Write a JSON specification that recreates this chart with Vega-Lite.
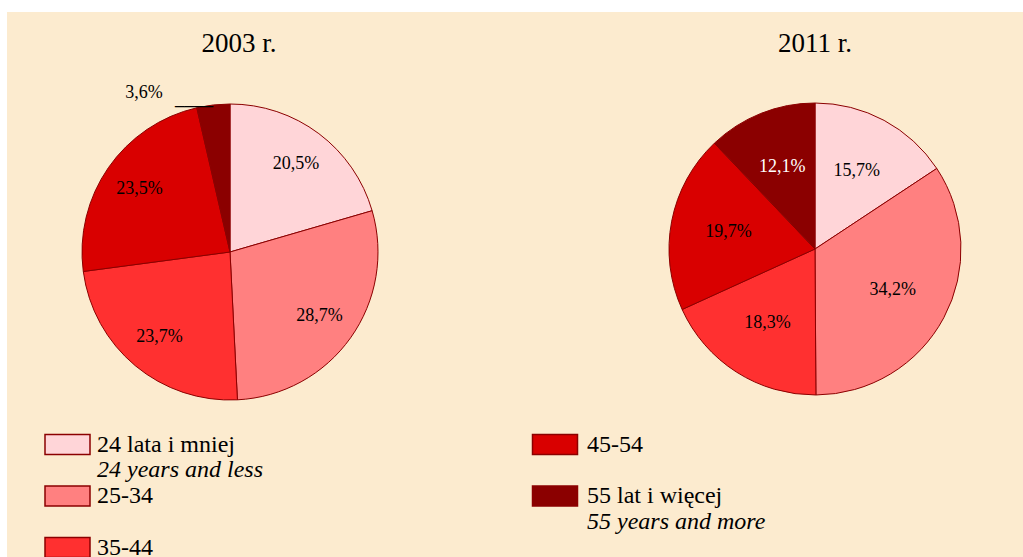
{
  "$schema": "https://vega.github.io/schema/vega-lite/v6.json",
  "width": 1023,
  "height": 557,
  "autosize": {"type": "fit", "contains": "padding"},
  "padding": {"left": 7, "top": 12, "right": 0, "bottom": 0},
  "background": "white",
  "config": {"view": {"fill": "#FCEBCF", "stroke": null}, "font": "Liberation Serif", "text": {"font": "Liberation Serif"}},
  "datasets": {
    "shares": [
      {"year": "2003", "category": "24 lata i mniej", "value": 20.5, "label": "20,5%"},
      {"year": "2003", "category": "25-34", "value": 28.7, "label": "28,7%"},
      {"year": "2003", "category": "35-44", "value": 23.7, "label": "23,7%"},
      {"year": "2003", "category": "45-54", "value": 23.5, "label": "23,5%"},
      {"year": "2003", "category": "55 lat i więcej", "value": 3.6, "label": "3,6%"},
      {"year": "2011", "category": "24 lata i mniej", "value": 15.7, "label": "15,7%"},
      {"year": "2011", "category": "25-34", "value": 34.2, "label": "34,2%"},
      {"year": "2011", "category": "35-44", "value": 18.3, "label": "18,3%"},
      {"year": "2011", "category": "45-54", "value": 19.7, "label": "19,7%"},
      {"year": "2011", "category": "55 lat i więcej", "value": 12.1, "label": "12,1%"}
    ],
    "titles": [
      {"year": "2003", "title": "2003 r."},
      {"year": "2011", "title": "2011 r."}
    ],
    "legend": [
      {"col": "L", "line": 0, "text": "24 lata i mniej", "kind": "main", "category": "24 lata i mniej"},
      {"col": "L", "line": 1, "text": "24 years and less", "kind": "en"},
      {"col": "L", "line": 2, "text": "25-34", "kind": "main", "category": "25-34"},
      {"col": "L", "line": 4, "text": "35-44", "kind": "main", "category": "35-44"},
      {"col": "R", "line": 0, "text": "45-54", "kind": "main", "category": "45-54"},
      {"col": "R", "line": 2, "text": "55 lat i więcej", "kind": "main", "category": "55 lat i więcej"},
      {"col": "R", "line": 3, "text": "55 years and more", "kind": "en"}
    ]
  },
  "resolve": {"scale": {"x": "independent", "y": "independent"}},
  "layer": [
    {
      "data": {"name": "shares"},
      "transform": [{"filter": "datum.year == '2003'"}],
      "mark": {"type": "arc", "outerRadius": 148, "stroke": "#8B0000", "strokeWidth": 1},
      "encoding": {
        "x": {"field": "year", "type": "nominal", "scale": {"type": "point", "domain": ["2003", "2011"], "range": [223, 808], "padding": 0}, "axis": null},
        "y": {"field": "year", "type": "nominal", "scale": {"type": "point", "domain": ["2003", "2011"], "range": [240, 237], "padding": 0}, "axis": null},
        "theta": {"field": "value", "type": "quantitative", "stack": true, "scale": {"domain": [0, 100]}},
        "order": {"field": "category", "type": "ordinal", "sort": "ascending"},
        "color": {"field": "category", "type": "nominal", "legend": null,
          "scale": {"domain": ["24 lata i mniej", "25-34", "35-44", "45-54", "55 lat i więcej"],
                    "range": ["#FFD5D8", "#FF8080", "#FF3030", "#D90000", "#8B0000"]}}
      }
    },
    {
      "data": {"name": "shares"},
      "transform": [{"filter": "datum.year == '2011'"}],
      "mark": {"type": "arc", "outerRadius": 146, "stroke": "#8B0000", "strokeWidth": 1},
      "encoding": {
        "x": {"field": "year", "type": "nominal", "scale": {"type": "point", "domain": ["2003", "2011"], "range": [223, 808], "padding": 0}, "axis": null},
        "y": {"field": "year", "type": "nominal", "scale": {"type": "point", "domain": ["2003", "2011"], "range": [240, 237], "padding": 0}, "axis": null},
        "theta": {"field": "value", "type": "quantitative", "stack": true, "scale": {"domain": [0, 100]}},
        "order": {"field": "category", "type": "ordinal", "sort": "ascending"},
        "color": {"field": "category", "type": "nominal", "legend": null}
      }
    },
    {
      "data": {"name": "shares"},
      "transform": [{"filter": "datum.year == '2003'"}],
      "mark": {"type": "text", "font": "Liberation Serif", "radius": 110, "fontSize": 18, "baseline": "middle", "align": "center"},
      "encoding": {
        "x": {"field": "year", "type": "nominal", "scale": {"type": "point", "domain": ["2003", "2011"], "range": [223, 808], "padding": 0}, "axis": null},
        "y": {"field": "year", "type": "nominal", "scale": {"type": "point", "domain": ["2003", "2011"], "range": [240, 237], "padding": 0}, "axis": null},
        "theta": {"field": "value", "type": "quantitative", "stack": true, "scale": {"domain": [0, 100]}},
        "order": {"field": "category", "type": "ordinal", "sort": "ascending"},
        "text": {"condition": {"test": "datum.category == '55 lat i więcej'", "value": ""}, "field": "label"},
        "color": {"value": "black"}
      }
    },
    {
      "data": {"name": "shares"},
      "transform": [{"filter": "datum.year == '2003'"}],
      "mark": {"type": "text", "font": "Liberation Serif", "radius": 160, "dx": -68, "fontSize": 18, "baseline": "middle", "align": "center"},
      "encoding": {
        "x": {"field": "year", "type": "nominal", "scale": {"type": "point", "domain": ["2003", "2011"], "range": [223, 808], "padding": 0}, "axis": null},
        "y": {"field": "year", "type": "nominal", "scale": {"type": "point", "domain": ["2003", "2011"], "range": [240, 237], "padding": 0}, "axis": null},
        "theta": {"field": "value", "type": "quantitative", "stack": true, "scale": {"domain": [0, 100]}},
        "order": {"field": "category", "type": "ordinal", "sort": "ascending"},
        "text": {"condition": {"test": "datum.category == '55 lat i więcej'", "field": "label"}, "value": ""},
        "color": {"value": "black"}
      }
    },
    {
      "data": {"name": "shares"},
      "transform": [{"filter": "datum.year == '2003'"}],
      "mark": {"type": "text", "font": "Liberation Serif", "fontWeight": "bold", "radius": 160, "dx": -18, "dy": 12, "fontSize": 19, "baseline": "alphabetic", "align": "center"},
      "encoding": {
        "x": {"field": "year", "type": "nominal", "scale": {"type": "point", "domain": ["2003", "2011"], "range": [223, 808], "padding": 0}, "axis": null},
        "y": {"field": "year", "type": "nominal", "scale": {"type": "point", "domain": ["2003", "2011"], "range": [240, 237], "padding": 0}, "axis": null},
        "theta": {"field": "value", "type": "quantitative", "stack": true, "scale": {"domain": [0, 100]}},
        "order": {"field": "category", "type": "ordinal", "sort": "ascending"},
        "text": {"condition": {"test": "datum.category == '55 lat i więcej'", "value": "____"}, "value": ""},
        "color": {"value": "black"}
      }
    },
    {
      "data": {"name": "shares"},
      "transform": [{"filter": "datum.year == '2011'"}],
      "mark": {"type": "text", "font": "Liberation Serif", "radius": 88, "fontSize": 18, "baseline": "middle", "align": "center"},
      "encoding": {
        "x": {"field": "year", "type": "nominal", "scale": {"type": "point", "domain": ["2003", "2011"], "range": [223, 808], "padding": 0}, "axis": null},
        "y": {"field": "year", "type": "nominal", "scale": {"type": "point", "domain": ["2003", "2011"], "range": [240, 237], "padding": 0}, "axis": null},
        "theta": {"field": "value", "type": "quantitative", "stack": true, "scale": {"domain": [0, 100]}},
        "order": {"field": "category", "type": "ordinal", "sort": "ascending"},
        "text": {"field": "label"},
        "color": {"condition": {"test": "datum.category == '55 lat i więcej'", "value": "white"}, "value": "black"}
      }
    },
    {
      "data": {"name": "titles"},
      "mark": {"type": "text", "font": "Liberation Serif", "fontSize": 27, "baseline": "alphabetic", "align": "center", "color": "black"},
      "encoding": {
        "x": {"field": "year", "type": "nominal", "scale": {"type": "point", "domain": ["2003", "2011"], "range": [232, 808], "padding": 0}, "axis": null},
        "y": {"field": "year", "type": "nominal", "scale": {"type": "point", "domain": ["2003", "2011"], "range": [40, 40], "padding": 0}, "axis": null},
        "text": {"field": "title"}
      }
    },
    {
      "data": {"name": "legend"},
      "transform": [{"filter": "datum.kind == 'main'"}],
      "mark": {"type": "point", "shape": "M-1,-0.444H1V0.444H-1Z", "size": 2025, "filled": true, "opacity": 1, "stroke": "#8B0000", "strokeWidth": 1.5},
      "encoding": {
        "x": {"field": "col", "type": "nominal", "scale": {"type": "point", "domain": ["L", "R"], "range": [60.5, 548], "padding": 0}, "axis": null},
        "y": {"field": "line", "type": "ordinal", "scale": {"type": "point", "domain": [0, 1, 2, 3, 4], "range": [432.5, 535.5], "padding": 0}, "axis": null},
        "color": {"field": "category", "type": "nominal", "legend": null}
      }
    },
    {
      "data": {"name": "legend"},
      "transform": [{"filter": "datum.kind == 'main'"}],
      "mark": {"type": "text", "font": "Liberation Serif", "fontSize": 24, "align": "left", "baseline": "middle", "color": "black"},
      "encoding": {
        "x": {"field": "col", "type": "nominal", "scale": {"type": "point", "domain": ["L", "R"], "range": [90, 580], "padding": 0}, "axis": null},
        "y": {"field": "line", "type": "ordinal", "scale": {"type": "point", "domain": [0, 1, 2, 3, 4], "range": [432.5, 535.5], "padding": 0}, "axis": null},
        "text": {"field": "text"}
      }
    },
    {
      "data": {"name": "legend"},
      "transform": [{"filter": "datum.kind == 'en'"}],
      "mark": {"type": "text", "font": "Liberation Serif", "fontSize": 24, "fontStyle": "italic", "align": "left", "baseline": "middle", "color": "black"},
      "encoding": {
        "x": {"field": "col", "type": "nominal", "scale": {"type": "point", "domain": ["L", "R"], "range": [90, 580], "padding": 0}, "axis": null},
        "y": {"field": "line", "type": "ordinal", "scale": {"type": "point", "domain": [0, 1, 2, 3, 4], "range": [432.5, 535.5], "padding": 0}, "axis": null},
        "text": {"field": "text"}
      }
    }
  ]
}
